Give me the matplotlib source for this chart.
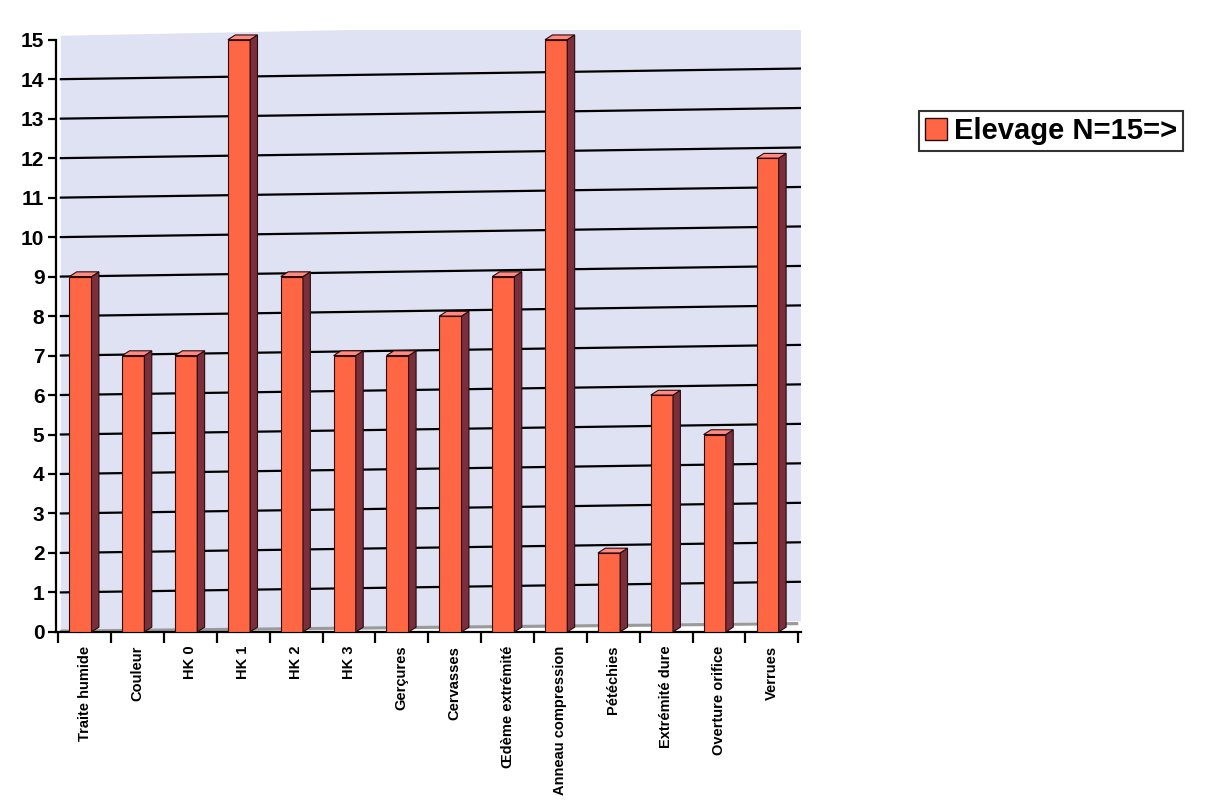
import numpy as np
import matplotlib
matplotlib.use("Agg")
import matplotlib.pyplot as plt
from matplotlib.patches import Polygon, Patch

plt.rcParams['font.family'] = ['Liberation Sans', 'DejaVu Sans']

categories = ["Traite humide", "Couleur", "HK 0", "HK 1", "HK 2", "HK 3", "Gerçures",
              "Cervasses", "Œdème extrémité", "Anneau compression", "Pétéchies",
              "Extrémité dure", "Overture orifice", "Verrues"]
values = [9, 7, 7, 15, 9, 7, 7, 8, 9, 15, 2, 6, 5, 12]
yticks = list(range(0, 16))
series_name = "Elevage N=15=>"

front = "#ff6644"
side = "#7a2f3c"
top = "#ff8a80"
wall = "#dfe2f3"

fig = plt.figure(figsize=(12.08, 8.06), dpi=100)
ax = fig.add_axes([0.046, 0.216, 0.617, 0.747])

n = len(categories)
x = np.arange(n)
w = 0.42      # width of front face
dx = 0.14     # depth of side face (x units)
dy = 0.12     # depth of top face (y units)
skew = 0.27   # slant of gridlines across the wall

# back wall
ax.add_patch(Polygon([(-0.45, 0), (n - 0.5 + 0.05, skew), (n - 0.5 + 0.05, 15.2 + skew),
                      (-0.45, 15.1)], closed=True, facecolor=wall, edgecolor="none", zorder=0))
# floor strip
ax.add_patch(Polygon([(-0.5, -0.02), (n - 0.5, skew - 0.1), (n - 0.5, skew - 0.02),
                      (-0.45, 0.06)], closed=True, facecolor="#9a9a9a", edgecolor="none", zorder=1))

# slanted gridlines (no line at the top value)
for v in yticks[1:-1]:
    ax.plot([-0.45, n - 0.5 + 0.05], [v, v + skew], color="black", lw=1.6, zorder=2)

# bars: front face through ax.bar, side and top faces as polygons
left = x - 0.08 - w / 2
ax.bar(left, values, width=w, align="edge", color=front, edgecolor="#2a0a0a",
       linewidth=0.8, zorder=3)
for xi, v in zip(left, values):
    ax.add_patch(Polygon([(xi + w, 0), (xi + w + dx, dy), (xi + w + dx, v + dy), (xi + w, v)],
                         closed=True, facecolor=side, edgecolor="#2a0a0a", lw=0.8, zorder=3))
    ax.add_patch(Polygon([(xi, v), (xi + w, v), (xi + w + dx, v + dy), (xi + dx, v + dy)],
                         closed=True, facecolor=top, edgecolor="#2a0a0a", lw=0.8, zorder=3))

ax.set_xlim(-0.55, n - 0.45)
ax.set_ylim(0, 15.25)
ax.set_yticks(yticks)
ax.set_yticklabels([str(t) for t in yticks], fontsize=15, fontweight="bold")
ax.set_xticks(x)
ax.set_xticklabels(categories, rotation=90, fontsize=10.5, fontweight="bold")
ax.tick_params(axis="x", length=0, pad=10)
ax.set_xticks(np.arange(n + 1) - 0.5, minor=True)
ax.tick_params(axis="x", which="minor", length=8, width=1.6, direction="out")
ax.tick_params(axis="y", length=6, width=1.6, direction="out", pad=2)

for s in ["top", "right"]:
    ax.spines[s].set_visible(False)
ax.spines["left"].set_linewidth(1.6)
ax.spines["bottom"].set_linewidth(1.6)
ax.spines["left"].set_bounds(0, 15)
ax.set_facecolor("white")

handle = Patch(facecolor=front, edgecolor="#2a0a0a", linewidth=1)
leg = fig.legend([handle], [series_name], loc="upper left",
                 bbox_to_anchor=(0.761, 0.862), fancybox=False, frameon=True,
                 prop={"size": 21, "weight": "bold"}, handlelength=0.75, handleheight=0.75,
                 handletextpad=0.25, borderpad=0.2, borderaxespad=0)
leg.get_frame().set_edgecolor("black")
leg.get_frame().set_linewidth(1.5)

fig.savefig("out.png", dpi=100)
